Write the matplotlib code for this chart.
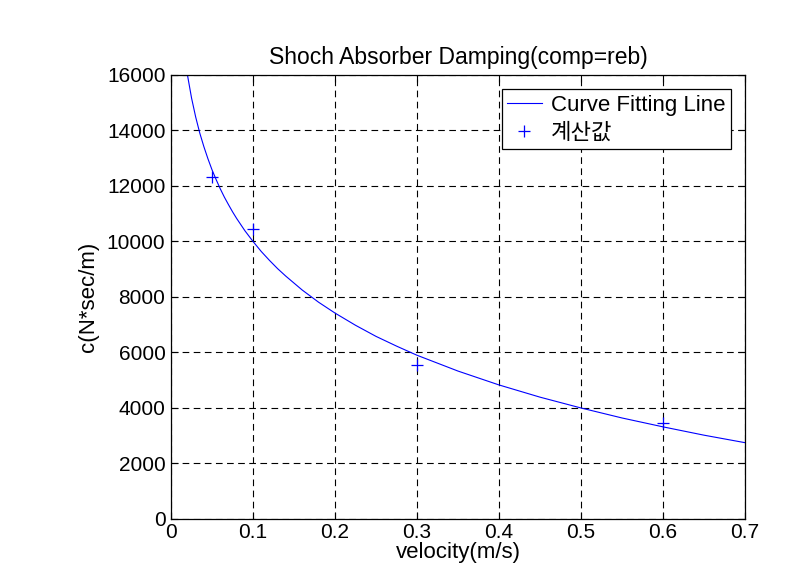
import matplotlib
matplotlib.use('Agg')
import matplotlib.pyplot as plt

plt.rcParams['font.family'] = ['Liberation Sans', 'Noto Sans CJK KR', 'DejaVu Sans']

# fitted curve
fit_v = [0.015, 0.018, 0.02, 0.025, 0.03, 0.035, 0.04, 0.045, 0.05, 0.055, 0.06,
         0.065, 0.07, 0.075, 0.08, 0.09, 0.1, 0.11, 0.12, 0.13, 0.14, 0.16,
         0.18, 0.2, 0.225, 0.25, 0.275, 0.3, 0.35, 0.4, 0.45, 0.5, 0.55,
         0.6, 0.65, 0.7]
fit_c = [17070, 16390, 16000, 15170, 14490, 13910, 13420, 12980, 12580, 12230, 11900,
         11600, 11330, 11070, 10830, 10390, 10000, 9640, 9320, 9020, 8750, 8250,
         7810, 7420, 6980, 6580, 6230, 5900, 5330, 4830, 4390, 4000, 3640,
         3320, 3020, 2750]

# calculated values
calc_v = [0.05, 0.1, 0.3, 0.6]
calc_c = [12330, 10450, 5550, 3460]

fig = plt.figure(figsize=(7.93, 5.8), dpi=100)
ax = fig.add_axes([0.2157, 0.1052, 0.7238, 0.7655])

ax.plot(fit_v, fit_c, color='blue', lw=0.8, label='Curve Fitting Line')
ax.plot(calc_v, calc_c, ls='none', marker='+', color='blue', ms=9, mew=0.9, label='계산값')

ax.set_xlim(0, 0.7)
ax.set_ylim(0, 16000)
ax.set_xticks([0, 0.1, 0.2, 0.3, 0.4, 0.5, 0.6, 0.7])
ax.set_xticklabels(['0', '0.1', '0.2', '0.3', '0.4', '0.5', '0.6', '0.7'])
ax.set_yticks(range(0, 16001, 2000))
ax.grid(True, color='black', ls=(0, (6, 4)), lw=0.8)
ax.tick_params(direction='in', top=True, right=True, labelsize=15, length=5)
ax.tick_params(axis='x', pad=3)
ax.tick_params(axis='y', pad=4)
for s in ax.spines.values():
    s.set_linewidth(0.9)

ax.set_title('Shoch Absorber Damping(comp=reb)', fontsize=16.5, pad=8)
ax.set_xlabel('velocity(m/s)', fontsize=16, labelpad=0)
ax.set_ylabel('c(N*sec/m)', fontsize=16, labelpad=6)

leg = ax.legend(loc='upper right', fontsize=16, fancybox=False, framealpha=1,
                edgecolor='black', borderaxespad=0.65, handlelength=1.55,
                borderpad=0.25, labelspacing=0.3, handletextpad=0.4)
leg.get_frame().set_linewidth(0.9)

fig.savefig('out.png', dpi=100)
